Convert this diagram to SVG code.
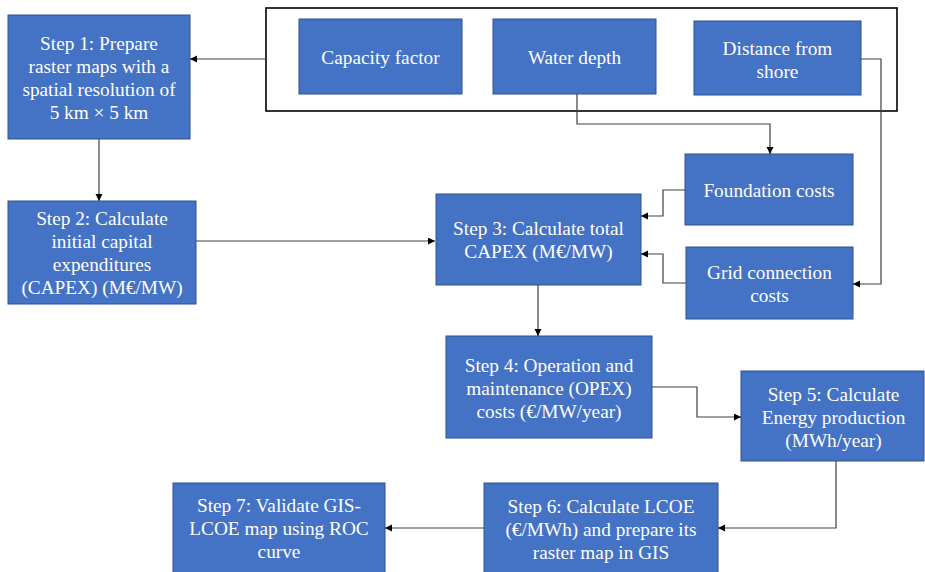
<svg xmlns="http://www.w3.org/2000/svg" width="925" height="572" viewBox="0 0 925 572">
<style>
.box{fill:#4472C4;stroke:#2F528F;stroke-width:1}
.t{fill:#ffffff;font-family:"Liberation Serif","Times New Roman",serif;font-size:19.3px;text-anchor:middle}
.c{fill:none;stroke:#404040;stroke-width:1.2;marker-end:url(#ah)}
</style>
<defs>
<marker id="ah" markerUnits="userSpaceOnUse" markerWidth="8" markerHeight="8" refX="7" refY="3.5" orient="auto">
<path d="M0,0 L7,3.5 L0,7 z" fill="#000"/>
</marker>
</defs>
<rect width="925" height="572" fill="#ffffff"/>
<g id="inputs-container">
<rect x="266" y="8" width="631" height="103" fill="none" stroke="#000" stroke-width="1.6"/>
</g>
<g id="capacity-factor">
<rect class="box" x="299" y="19" width="163" height="75"/>
<text class="t" x="380.5" y="63.5">Capacity factor</text>
</g>
<g id="water-depth">
<rect class="box" x="493" y="19" width="163" height="75"/>
<text class="t" x="574.5" y="63.5">Water depth</text>
</g>
<g id="distance-from-shore">
<rect class="box" x="694" y="21" width="167" height="74"/>
<text class="t" x="777.5" y="54.5">Distance from</text>
<text class="t" x="777.5" y="77.5">shore</text>
</g>
<g id="step1">
<rect class="box" x="8" y="15" width="182" height="124"/>
<text class="t" x="99" y="50">Step 1: Prepare</text>
<text class="t" x="99" y="73">raster maps with a</text>
<text class="t" x="99" y="96">spatial resolution of</text>
<text class="t" x="99" y="119">5 km × 5 km</text>
</g>
<g id="step2">
<rect class="box" x="8" y="201" width="188" height="103"/>
<text class="t" x="102" y="225">Step 2: Calculate</text>
<text class="t" x="102" y="248">initial capital</text>
<text class="t" x="102" y="271">expenditures</text>
<text class="t" x="102" y="294">(CAPEX) (M€/MW)</text>
</g>
<g id="foundation-costs">
<rect class="box" x="685" y="154" width="168" height="71"/>
<text class="t" x="769" y="196.5">Foundation costs</text>
</g>
<g id="step3">
<rect class="box" x="436" y="194" width="205" height="91"/>
<text class="t" x="538.5" y="235">Step 3: Calculate total</text>
<text class="t" x="538.5" y="258">CAPEX (M€/MW)</text>
</g>
<g id="grid-connection-costs">
<rect class="box" x="686" y="247" width="167" height="72"/>
<text class="t" x="769.5" y="279">Grid connection</text>
<text class="t" x="769.5" y="302">costs</text>
</g>
<g id="step4">
<rect class="box" x="446" y="336" width="206" height="102"/>
<text class="t" x="549" y="371.5">Step 4: Operation and</text>
<text class="t" x="549" y="394.5">maintenance (OPEX)</text>
<text class="t" x="549" y="417.5">costs (€/MW/year)</text>
</g>
<g id="step5">
<rect class="box" x="741" y="371" width="183" height="90"/>
<text class="t" x="833.5" y="400.5">Step 5: Calculate</text>
<text class="t" x="833.5" y="423.5">Energy production</text>
<text class="t" x="833.5" y="446.5">(MWh/year)</text>
</g>
<g id="step6">
<rect class="box" x="484" y="483" width="234" height="93"/>
<text class="t" x="601" y="513">Step 6: Calculate LCOE</text>
<text class="t" x="601" y="536">(€/MWh) and prepare its</text>
<text class="t" x="601" y="559">raster map in GIS</text>
</g>
<g id="step7">
<rect class="box" x="173" y="483" width="212" height="93"/>
<text class="t" x="279" y="512">Step 7: Validate GIS-</text>
<text class="t" x="279" y="535">LCOE map using ROC</text>
<text class="t" x="279" y="558">curve</text>
</g>
<g id="connectors">
<path class="c" d="M266,59 H190"/>
<path class="c" d="M99,139 V201"/>
<path class="c" d="M196,241 H435"/>
<path class="c" d="M577,94 V124 H770 V154"/>
<path class="c" d="M861,59 H881 V284 H853"/>
<path class="c" d="M685,190 H663 V216 H641"/>
<path class="c" d="M686,283 H663 V254 H641"/>
<path class="c" d="M538,285 V336"/>
<path class="c" d="M652,387 H697 V417 H741"/>
<path class="c" d="M836,461 V528 H718"/>
<path class="c" d="M484,528 H385"/>
</g>
</svg>
